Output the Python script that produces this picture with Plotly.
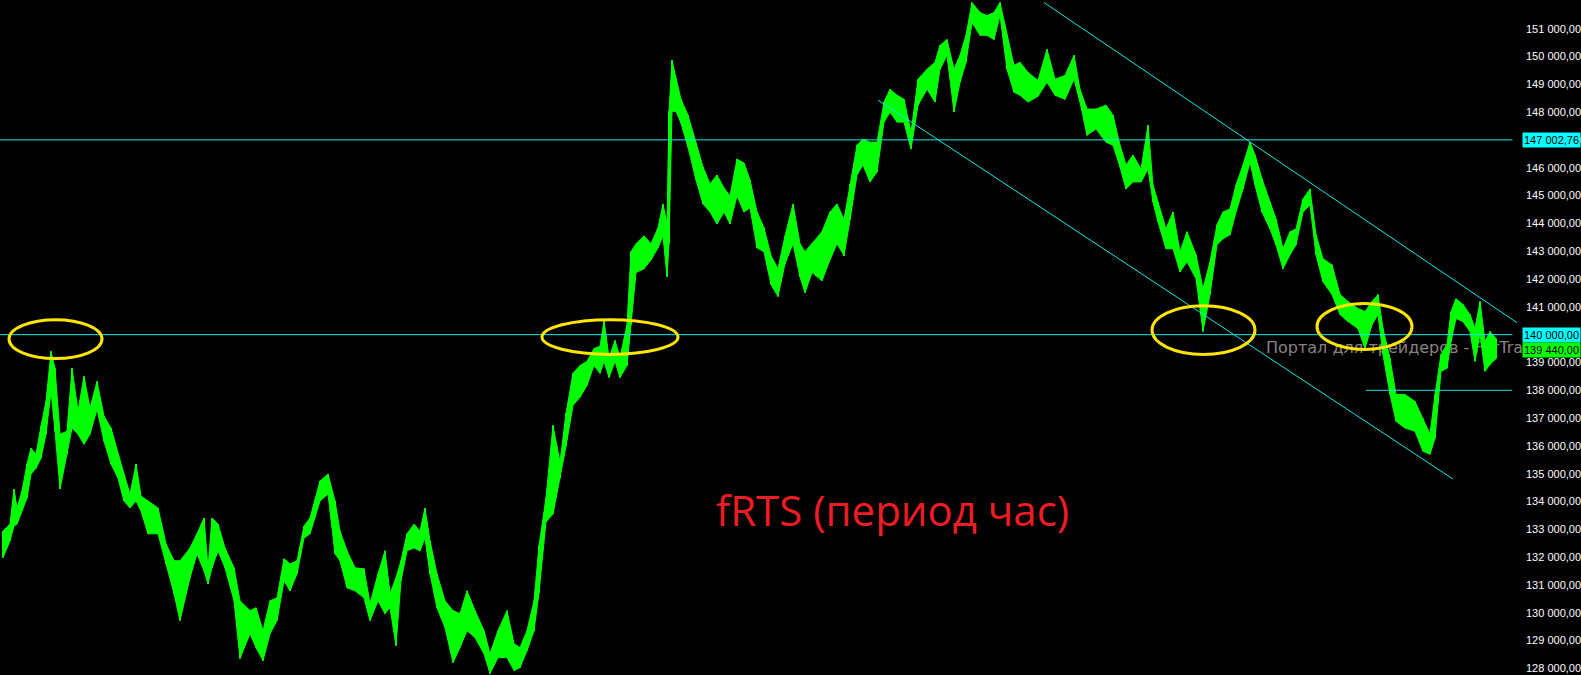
import plotly.graph_objects as go

# ---- data (hourly bars of fRTS, prices in thousands) ----
bars = [3,10,14,17,22,27,31,36,41,46,51,55,60,67,72,78,84,90,97,104,111,118,124,130,136,141,148,158,166,174,180,190,197,204,208,212,218,225,234,240,250,256,
        263,270,277,284,290,297,304,310,320,328,335,340,347,355,364,370,378,385,390,396,401,407,414,420,425,430,437,445,453,460,467,475,484,490,498,507,514,520,527,534,539,
        546,553,560,566,573,580,587,594,600,604,609,615,620,627,631,636,644,651,658,663,667,669,672,676,681,688,696,703,710,717,724,730,737,744,750,757,764,771,778,785,793,800,805,812,822,830,837,844,850,857,863,870,877,
        884,890,897,904,911,918,927,935,940,947,954,960,966,972,980,987,994,1000,1007,1014,1020,1028,1038,1047,1055,1065,1074,1080,1087,1096,1106,1113,1120,1126,1133,1141,1148,1153,1158,1166,1173,1180,1187,1196,
        1203,1210,1217,1223,1230,1236,1243,1250,1255,1262,1270,1276,1283,1290,1296,1303,1310,1316,1323,1332,1340,1348,1358,1365,1372,1378,1383,1390,1396,1405,1415,1423,1430,1435,1441,1447,1451,1456,1463,1470,1475,1480,1485,1490,1496]

highs_k = [132.94,133.19,134.45,133.77,134.38,135.35,135.92,135.70,136.71,137.60,139.40,138.79,136.42,136.53,138.79,137.25,138.50,137.35,138.32,137.07,136.64,135.70,134.99,134.27,135.35,134.20,134.02,133.77,132.48,131.87,131.87,132.33,132.84,133.41,131.62,133.41,133.19,132.33,131.62,130.43,130.08,130.18,
           129.36,130.43,130.54,131.94,131.76,131.87,133.12,133.41,134.74,134.99,134.02,132.94,132.23,131.62,131.58,130.33,131.40,132.23,130.69,131.26,131.87,132.84,133.19,132.94,133.77,132.59,131.40,130.43,130.08,129.97,130.79,130.08,129.36,128.53,129.36,130.08,128.89,128.75,129.36,130.43,132.41,
           134.13,136.74,135.42,137.17,138.61,138.89,139.04,139.50,139.58,140.51,139.18,139.79,139.18,140.36,142.98,143.27,143.55,143.27,143.84,144.70,143.98,148.03,149.86,149.22,148.46,147.89,146.89,146.03,145.42,145.74,145.27,144.99,146.31,146.17,145.56,144.41,143.84,142.84,142.37,143.55,144.70,143.27,142.98,143.27,143.70,144.41,144.70,144.13,145.42,146.81,147.03,146.92,146.92,
           148.36,148.82,148.61,148.46,147.28,149.18,149.54,149.79,150.40,150.61,149.54,150.04,150.76,151.94,151.58,151.47,151.58,151.94,150.76,149.68,149.79,149.43,149.14,150.26,149.18,149.32,150.04,148.82,148.11,148.11,148.25,147.89,146.81,146.10,146.46,145.95,147.53,145.38,144.77,143.80,144.41,142.98,143.70,142.87,
           141.65,142.62,143.95,144.41,144.52,145.38,146.10,146.92,146.46,145.60,144.77,144.16,143.09,143.70,143.80,144.88,145.24,143.59,142.73,142.51,141.44,141.19,140.94,140.83,141.19,141.44,140.22,139.14,137.85,137.85,137.60,136.99,136.42,137.85,139.29,139.65,140.83,141.29,141.08,140.72,140.22,141.19,139.75,140.11,139.86]

lows_k = [131.98,132.59,133.12,133.19,133.66,134.13,134.99,135.20,135.56,136.42,137.96,136.53,134.45,135.70,136.64,136.42,136.06,136.42,137.32,136.17,135.35,134.84,134.02,133.77,134.02,133.66,132.84,132.84,131.76,130.69,129.72,131.26,132.12,131.51,131.04,131.62,132.23,131.62,130.43,128.36,129.25,128.75,
          128.28,129.25,129.72,131.15,130.79,131.40,132.69,132.84,134.02,134.27,132.12,131.87,130.90,130.79,130.54,129.72,130.43,129.97,130.18,128.82,131.15,132.23,132.33,132.23,132.69,131.40,130.18,129.47,128.21,128.75,129.36,129.11,128.53,127.82,128.39,128.39,127.93,128.03,128.64,129.36,130.72,
          133.27,133.55,134.84,135.99,137.46,137.75,138.18,138.89,138.61,139.04,138.46,139.04,138.46,138.89,140.36,142.23,142.37,142.69,143.12,143.55,142.08,143.27,148.03,148.03,147.60,146.74,145.56,144.70,144.41,143.98,144.41,143.98,144.99,144.41,144.56,143.12,142.98,141.80,141.37,142.55,143.27,142.08,141.51,142.23,141.94,142.69,143.27,142.84,144.13,145.74,146.10,145.49,145.85,
          147.64,148.00,147.64,147.64,146.67,148.25,148.82,148.36,149.54,150.04,148.00,149.07,149.79,151.22,150.76,150.76,150.61,151.47,149.54,148.71,148.61,148.36,148.57,149.07,148.61,148.46,149.18,148.36,147.17,147.39,146.92,146.81,146.03,145.24,145.49,145.49,145.95,144.77,144.05,143.09,143.09,142.26,142.62,142.01,
          140.11,141.44,143.23,143.45,143.59,144.41,145.24,146.21,145.38,144.41,143.80,143.23,142.37,142.87,143.23,144.41,144.66,142.87,141.90,141.44,140.72,140.47,140.22,139.50,140.36,140.72,139.29,137.85,136.89,136.64,136.53,135.81,135.70,136.28,138.68,138.79,139.75,140.58,140.47,140.11,139.04,140.01,138.68,138.93,139.14]

highs = [v * 1000 for v in highs_k]
lows = [v * 1000 for v in lows_k]

level_lines = [147002.76, 140000.0]
support_level = 138000.0
support_start_bar = 1366
last_price = 139440.0
# trend channel (bar, price) endpoints
channel_lines = [((1044, 151940), (1517, 140430)), ((878, 148430), (1453, 134810))]
# highlighted zones: (bar0, bar1, price_low, price_high)
ellipses = [(9, 102, 139140, 140540), (542, 678, 139290, 140540),
            (1152, 1255, 139290, 141040), (1317, 1412, 139470, 141120)]
tick_prices = list(range(128000, 153000, 1000))
title_text = "fRTS (период час)"
watermark = "Портал для трейдеров - ForTrader.ru"

X_MAX = 1517
Y_RANGE = [127765, 152030]


def fmt(v):
    s = f"{v:,.2f}"
    return s.replace(",", " ").replace(".", ",")


GREEN = "#00FF00"
CYAN = "#14E8EA"

fig = go.Figure()

# watermark under the bars
fig.add_trace(go.Scatter(x=[1266], y=[139470], mode="text", text=[watermark],
                         textposition="middle right", cliponaxis=False,
                         textfont=dict(family="DejaVu Sans", size=16, color="#8a8282"),
                         hoverinfo="skip", showlegend=False))

# body band between lows and highs
fig.add_trace(go.Scatter(x=bars, y=highs, mode="lines", line=dict(color=GREEN, width=1),
                         showlegend=False, hoverinfo="skip"))
fig.add_trace(go.Scatter(x=bars, y=lows, mode="lines", line=dict(color=GREEN, width=1),
                         fill="tonexty", fillcolor=GREEN, showlegend=False, hoverinfo="skip"))

# vertical bar wicks
vx, vy = [], []
for b, lo, hi in zip(bars, lows, highs):
    vx += [b, b, None]
    vy += [lo, hi, None]
fig.add_trace(go.Scatter(x=vx, y=vy, mode="lines", line=dict(color=GREEN, width=2),
                         showlegend=False, hoverinfo="skip"))

shapes = []
for lvl in level_lines:
    shapes.append(dict(type="line", xref="paper", x0=0, x1=0.997, yref="y", y0=lvl, y1=lvl,
                       line=dict(color=CYAN, width=1)))
shapes.append(dict(type="line", xref="x", x0=support_start_bar, x1=X_MAX - 5, yref="y",
                   y0=support_level, y1=support_level, line=dict(color=CYAN, width=1)))
for (b0, p0), (b1, p1) in channel_lines:
    shapes.append(dict(type="line", xref="x", yref="y", x0=b0, y0=p0, x1=b1, y1=p1,
                       line=dict(color=CYAN, width=1)))
for b0, b1, plo, phi in ellipses:
    shapes.append(dict(type="circle", xref="x", yref="y", x0=b0, x1=b1, y0=plo, y1=phi,
                       line=dict(color="#FFE600", width=3)))

annotations = [
    dict(text=title_text, x=892, y=133700, xref="x", yref="y", showarrow=False,
         font=dict(family="Open Sans", size=42, color="#EE1C25"), xanchor="center", yanchor="middle"),
]
for lvl in level_lines:
    annotations.append(dict(text=fmt(lvl), xref="paper", x=1, xanchor="left", xshift=5,
                            yref="y", y=lvl, yanchor="middle", showarrow=False,
                            bgcolor="#00FFFF", borderpad=1,
                            font=dict(family="Liberation Sans", size=11, color="#000000")))
annotations.append(dict(text=fmt(last_price), xref="paper", x=1, xanchor="left", xshift=5,
                        yref="y", y=last_price, yanchor="middle", showarrow=False,
                        bgcolor=GREEN, borderpad=1,
                        font=dict(family="Liberation Sans", size=11, color="#000000")))

shown_ticks = [t for t in tick_prices if t not in level_lines]

fig.update_layout(
    template="none",
    width=1581, height=675,
    margin=dict(l=0, r=64, t=0, b=0, pad=0),
    paper_bgcolor="#000000", plot_bgcolor="#000000",
    showlegend=False,
    shapes=shapes,
    annotations=annotations,
    xaxis=dict(range=[0, X_MAX], visible=False, showgrid=False, zeroline=False, automargin=False),
    yaxis=dict(range=Y_RANGE, side="right", showgrid=False, zeroline=False, automargin=False,
               tickmode="array", tickvals=shown_ticks, ticktext=[fmt(t) for t in shown_ticks],
               ticks="", ticklabelstandoff=8, showline=False,
               tickfont=dict(family="Liberation Sans", size=11, color="#FFFFFF")),
)

fig.write_html("out.html", config={"displayModeBar": False},
               post_script="document.body.style.margin='0';document.body.style.background='#000';")
